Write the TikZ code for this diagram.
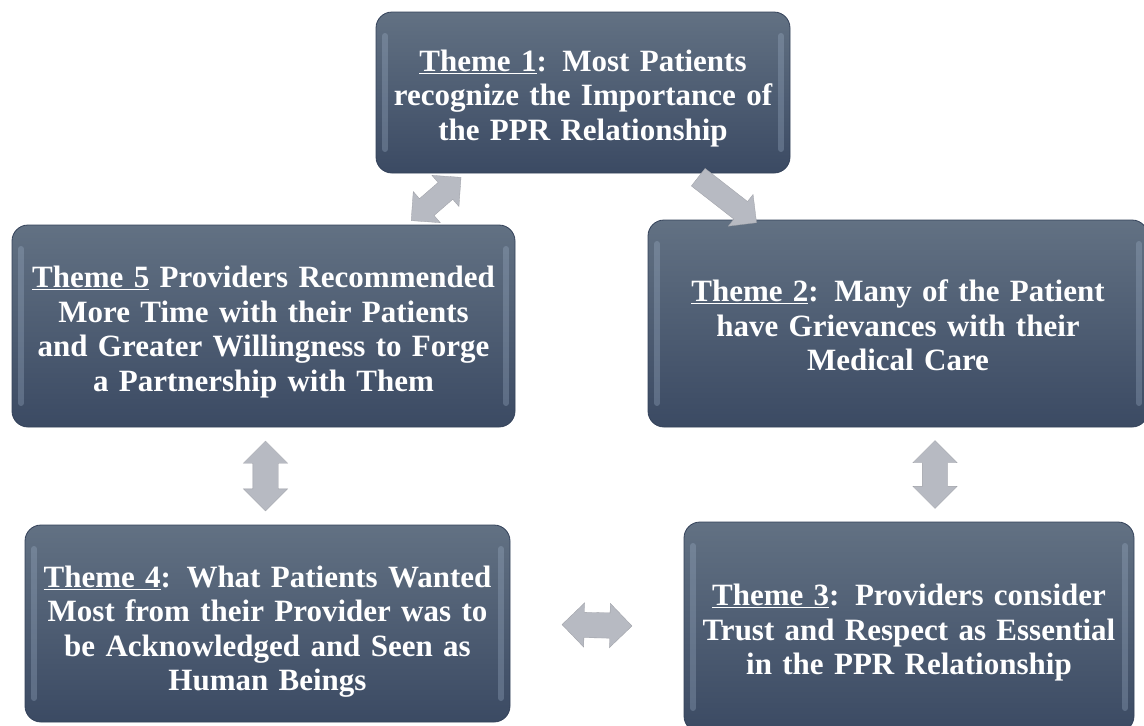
\documentclass[tikz,border=0pt]{standalone}
\usepackage{fontspec}
\setmainfont{Liberation Serif}
\usetikzlibrary{shapes.arrows}
\definecolor{boxtop}{HTML}{627183}
\definecolor{boxbot}{HTML}{3B4A63}
\definecolor{boxedge}{HTML}{34425A}
\definecolor{bevel}{HTML}{A3B5CC}
\definecolor{arrowgray}{HTML}{B7BAC2}
\newcommand{\thm}[1]{\underline{Theme #1}}
\tikzset{
  themebox/.style={rounded corners=16pt, top color=boxtop, bottom color=boxbot,
    draw=boxedge, line width=0.8pt, inner sep=0pt,
    path picture={
      \draw[bevel, line width=6pt, opacity=0.3, line cap=round]
        ([xshift=9pt,yshift=-24pt]path picture bounding box.north west) --
        ([xshift=9pt,yshift=24pt]path picture bounding box.south west);
      \draw[bevel, line width=6pt, opacity=0.3, line cap=round]
        ([xshift=-9pt,yshift=-24pt]path picture bounding box.north east) --
        ([xshift=-9pt,yshift=24pt]path picture bounding box.south east);
    }},
  themetext/.style={text=white, font=\fontsize{31}{34.5}\selectfont\bfseries,
    align=center, inner sep=0pt},
  dblarrow/.style={double arrow, fill=arrowgray, draw=arrowgray!85!black,
    line width=0.3pt, inner xsep=0pt, inner ysep=12.5pt, double arrow head extend=9.5pt,
    double arrow head indent=0pt, minimum height=68pt, minimum width=44pt},
  sglarrow/.style={single arrow, fill=arrowgray, draw=arrowgray!85!black,
    line width=0.3pt, inner xsep=0pt, inner ysep=11pt, single arrow head extend=9pt,
    single arrow head indent=0pt, minimum height=72pt, minimum width=40pt}
}
\begin{document}
\begin{tikzpicture}[x=1pt, y=-1pt]
\path[use as bounding box] (0,0) rectangle (1144,726);
\clip (0,0) rectangle (1144,726);
\fill[white] (0,0) rectangle (1144,726);

\node[themebox, minimum width=414pt, minimum height=161pt] (t1) at (583,92.5) {};
\node[themetext, text width=400pt] (t1x) at ([yshift=-6pt]t1.center)
  {\thm{1}: Most Patients\\ recognize the Importance of\\ the PPR Relationship};
\node[themebox, minimum width=503pt, minimum height=202pt] (t5) at (263.5,326) {};
\node[themetext, text width=490pt] (t5x) at ([yshift=-6pt]t5.center)
  {\thm{5} Providers Recommended\\ More Time with their Patients\\ and Greater Willingness to Forge\\ a Partnership with Them};
\node[themebox, minimum width=500pt, minimum height=207pt] (t2) at (898,323.5) {};
\node[themetext, text width=480pt] (t2x) at ([yshift=-2pt]t2.center)
  {\thm{2}: Many of the Patient\\ have Grievances with their\\ Medical Care};
\node[themebox, minimum width=485pt, minimum height=197pt] (t4) at (267.5,623.5) {};
\node[themetext, text width=470pt] (t4x) at ([yshift=-8pt]t4.center)
  {\thm{4}: What Patients Wanted\\ Most from their Provider was to\\ be Acknowledged and Seen as\\ Human Beings};
\node[themebox, minimum width=450pt, minimum height=210pt] (t3) at (909,627) {};
\node[themetext, text width=440pt] (t3x) at ([yshift=-6pt]t3.center)
  {\thm{3}: Providers consider\\ Trust and Respect as Essential\\ in the PPR Relationship};

\path ([xshift=90pt]t1.south west) -- ([xshift=395pt]t5.north west)
  node[midway, sloped, dblarrow, minimum height=66pt, minimum width=40pt, inner ysep=11pt] (a15) {};
\path ([xshift=-97pt]t1.south east) -- ([xshift=105pt]t2.north west)
  node[midway, sloped, sglarrow, minimum height=74pt] (a12) {};
\path ([xshift=2pt]t5.south) -- ([xshift=-2pt]t4.north)
  node[midway, sloped, dblarrow, minimum height=70pt] (a54) {};
\path ([xshift=37pt]t2.south) -- ([xshift=26pt]t3.north)
  node[midway, sloped, dblarrow, minimum height=68pt] (a23) {};
\path (t4.east) -- (t3.west)
  node[midway, sloped, dblarrow, minimum height=70pt, minimum width=43pt] (a43) {};
\end{tikzpicture}
\end{document}
